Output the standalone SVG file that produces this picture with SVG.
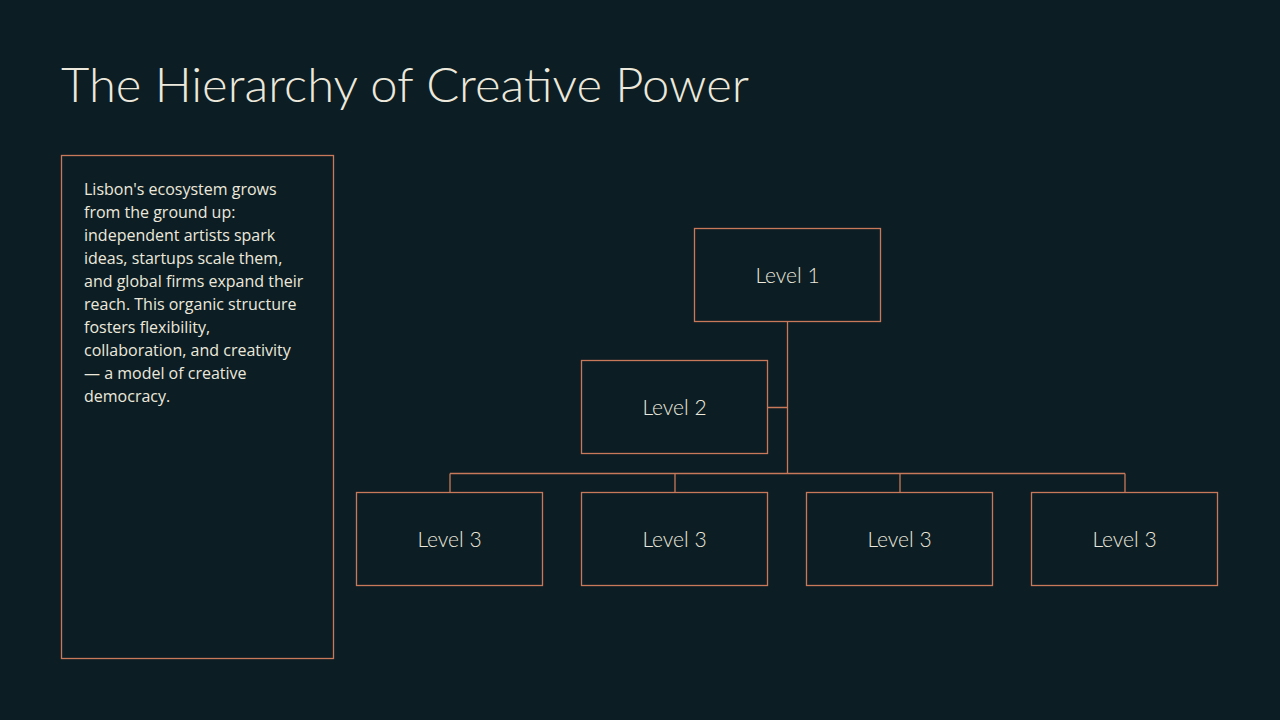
<svg xmlns="http://www.w3.org/2000/svg" width="1280" height="720" viewBox="0 0 1280 720">
<style>
.n rect{fill:#0d1d24;stroke:#c7795a;stroke-width:1.3}
.n text{font-family:"Lato",sans-serif;font-weight:300;font-size:21px;fill:#ece9dc;text-anchor:middle;dominant-baseline:central}
.c{stroke:#c7795a;stroke-width:1.3;fill:none}
.b{font-family:"Open Sans","Noto Sans",sans-serif;font-size:16px;fill:#ece9dc}
</style>
<rect width="1280" height="720" fill="#0d1d24"/>
<text x="61" y="102" font-family="Lato,'Noto Sans',sans-serif" font-size="47" fill="#ece9dc" font-weight="300" textLength="688" lengthAdjust="spacingAndGlyphs">The Hierarchy of Creative Power</text>
<g id="sidebar">
<rect x="61.5" y="155.5" width="272" height="503" fill="#0d1d24" stroke="#c7795a" stroke-width="1.3"/>
<text class="b"><tspan x="84" y="195">Lisbon's ecosystem grows</tspan><tspan x="84" y="218">from the ground up:</tspan><tspan x="84" y="241">independent artists spark</tspan><tspan x="84" y="264">ideas, startups scale them,</tspan><tspan x="84" y="287">and global firms expand their</tspan><tspan x="84" y="310">reach. This organic structure</tspan><tspan x="84" y="333">fosters flexibility,</tspan><tspan x="84" y="356">collaboration, and creativity</tspan><tspan x="84" y="379">— a model of creative</tspan><tspan x="84" y="402">democracy.</tspan></text>
</g>
<g id="connectors">
<path class="c" d="M787.5 321V473.5M768 407.5H787.5M450 473.5H1125M450 473.5V492M675 473.5V492M900 473.5V492M1125 473.5V492"/>
</g>
<g id="l1" class="n"><rect x="694.5" y="228.5" width="186" height="93"/><text x="787.5" y="274">Level 1</text></g>
<g id="l2" class="n"><rect x="581.5" y="360.5" width="186" height="93"/><text x="674.5" y="406">Level 2</text></g>
<g id="l3a" class="n"><rect x="356.5" y="492.5" width="186" height="93"/><text x="449.5" y="538">Level 3</text></g>
<g id="l3b" class="n"><rect x="581.5" y="492.5" width="186" height="93"/><text x="674.5" y="538">Level 3</text></g>
<g id="l3c" class="n"><rect x="806.5" y="492.5" width="186" height="93"/><text x="899.5" y="538">Level 3</text></g>
<g id="l3d" class="n"><rect x="1031.5" y="492.5" width="186" height="93"/><text x="1124.5" y="538">Level 3</text></g>
</svg>
